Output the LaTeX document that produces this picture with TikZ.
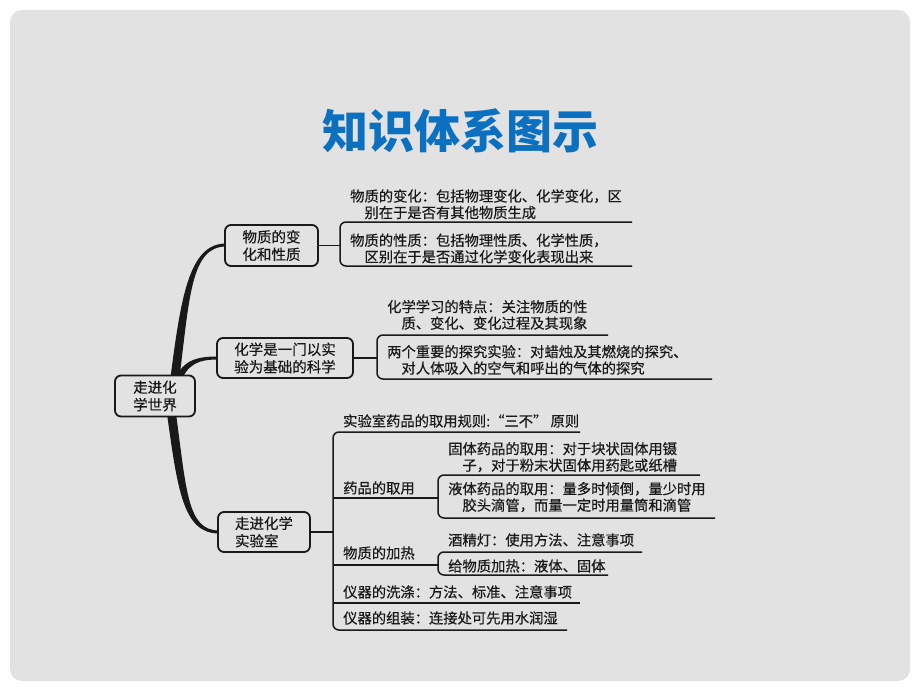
\documentclass[tikz,border=0pt]{standalone}
\usepackage{fontspec}
\setmainfont{Noto Sans CJK SC}
\newfontfamily\itemfont[FakeBold=0.4]{Noto Sans CJK SC}
\definecolor{bg}{RGB}{226,226,226}
\definecolor{titleblue}{RGB}{12,112,192}
\definecolor{ink}{RGB}{25,25,25}
\begin{document}
\begin{tikzpicture}[x=1pt,y=-1pt,
  mnode/.style={draw=ink, line width=1.8pt, rounded corners=6pt, fill=bg, inner sep=0pt,
    align=center, font=\itemfont\fontsize{14.5}{17.5}\selectfont, text=ink},
  item/.style={anchor=base west, inner sep=0pt, align=left, text=ink,
    font=\itemfont\fontsize{14.3}{16.5}\selectfont},
  uline/.style={draw=ink, line width=1.5pt, rounded corners=6pt},
  branch/.style={fill=ink, draw=none}]
\useasboundingbox (0,0) rectangle (920,690);
\fill[white] (0,0) rectangle (920,690);
\fill[bg, rounded corners=12pt] (10,10) rectangle (910,681);
\node[text=titleblue, font=\fontsize{46}{46}\selectfont\bfseries, inner sep=0pt] (title) at (460,131) {知识体系图示};

% thick tapered branches
\path[branch] (169.5,385) .. controls (180.5,300) and (188,243.5) .. (226,243.5) -- (226,246.5) .. controls (190,246.5) and (189.5,300) .. (178.5,385) -- cycle;
\path[branch] (172.5,385) .. controls (181,360) and (196,356.5) .. (218,356.5) -- (218,359.5) .. controls (198,359.5) and (187,364) .. (179.5,385) -- cycle;
\path[branch] (166.5,410) .. controls (177.5,490) and (183,533.5) .. (219,533.5) -- (219,530.5) .. controls (187,530.5) and (186.5,490) .. (175.5,410) -- cycle;

% main nodes
\node[mnode, minimum width=80pt, minimum height=41pt] (root) at (155,396) {走进化\\学世界};
\node[mnode, minimum width=93pt, minimum height=41pt] (n1) at (271.5,245.5) {物质的变\\化和性质};
\node[mnode, minimum width=136pt, minimum height=40pt] (n2) at (285,358) {化学是一门以实\\验为基础的科学};
\node[mnode, minimum width=92pt, minimum height=40pt, text width=58pt, align=left] (n3) at (264,532) {走进化学\\实验室};

% branch 1
\coordinate (b1) at (340,245.5);
\draw[uline] (n1.east) -- (b1);
\draw[uline] (632,222) -- (340,222) -- (340,266) -- (632,266);
\node[item] (t1a) at (350,218) {物质的变化：包括物理变化、化学变化，区\\\hspace*{1em}别在于是否有其他物质生成};
\node[item] (t1b) at (350,262.2) {物质的性质：包括物理性质、化学性质，\\\hspace*{1em}区别在于是否通过化学变化表现出来};

% branch 2
\coordinate (b2) at (377,358);
\draw[uline] (n2.east) -- (b2);
\draw[uline] (608,335) -- (377,335) -- (377,379) -- (712,379);
\node[item] (t2a) at (387,328.6) {化学学习的特点：关注物质的性\\\hspace*{1em}质、变化、变化过程及其现象};
\node[item] (t2b) at (387,373.6) {两个重要的探究实验：对蜡烛及其燃烧的探究、\\\hspace*{1em}对人体吸入的空气和呼出的气体的探究};

% branch 3
\coordinate (b3) at (333,532);
\draw[uline] (n3.east) -- (b3);
\draw[uline] (580,432) -- (333,432) -- (333,630) -- (567,630);
\coordinate (s1) at (438,498);
\coordinate (s2) at (438,565);
\draw[uline] (333,498) -- (s1);
\draw[uline] (333,565) -- (s2);
\draw[uline] (333,603) -- (580,603);
\draw[uline] (700,475) -- (438,475) -- (438,518) -- (715,518);
\draw[uline] (642,552) -- (438,552) -- (438,575) -- (608,575);

\node[item] (t3a) at (343,426.4) {实验室药品的取用规则:“三不” 原则};
\node[item] (t3b) at (343,493.4) {药品的取用};
\node[item] (t3b1) at (448,470.6) {固体药品的取用：对于块状固体用镊\\\hspace*{1em}子，对于粉末状固体用药匙或纸槽};
\node[item] (t3b2) at (448,510.6) {液体药品的取用：量多时倾倒，量少时用\\\hspace*{1em}胶头滴管，而量一定时用量筒和滴管};
\node[item] (t3c) at (343,558.4) {物质的加热};
\node[item] (t3c1) at (448,545.4) {酒精灯：使用方法、注意事项};
\node[item] (t3c2) at (448,571.4) {给物质加热：液体、固体};
\node[item] (t3d) at (343,597.4) {仪器的洗涤：方法、标准、注意事项};
\node[item] (t3e) at (343,623.4) {仪器的组装：连接处可先用水润湿};
\end{tikzpicture}
\end{document}
